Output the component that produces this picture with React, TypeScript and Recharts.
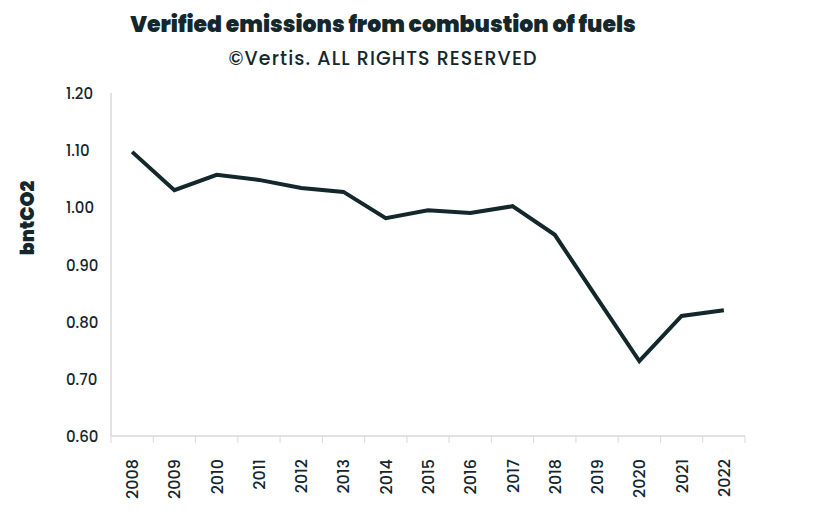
import React from 'react';
import { LineChart, Line, XAxis, YAxis } from 'recharts';

const years = ['2008','2009','2010','2011','2012','2013','2014','2015','2016','2017','2018','2019','2020','2021','2022'];
const emissions = [1.097, 1.03, 1.057, 1.048, 1.034, 1.027, 0.981, 0.995, 0.99, 1.002, 0.952, 0.841, 0.731, 0.81, 0.82];
const yTicks = [0.6, 0.7, 0.8, 0.9, 1.0, 1.1, 1.2];

const data = years.map((y, i) => ({ year: y, value: emissions[i] }));

const W = 840, H = 531;
const M = { top: 93, right: 95, left: 0, bottom: 0 };
const YW = 111, XH = 95;
const BAND = (W - M.right - YW) / years.length;
const FONT = 'Poppins, Inter, "Open Sans", sans-serif';
const DARK = '#13272c';
const GRID = '#d9d9d9';

const XTick = (props: any) => {
  const { x, y, payload, index } = props;
  const last = index === years.length - 1;
  return (
    <g>
      <line x1={x - BAND / 2} x2={x - BAND / 2} y1={y} y2={y + 7} stroke={GRID} strokeWidth={1} />
      {last && <line x1={x + BAND / 2} x2={x + BAND / 2} y1={y} y2={y + 7} stroke={GRID} strokeWidth={1} />}
      <text
        x={x + 6}
        y={y + 23}
        transform={`rotate(-90, ${x + 6}, ${y + 23})`}
        textAnchor="end"
        fontSize={16}
        fontFamily={FONT}
        fontWeight={500}
        fill={DARK}
      >
        {payload.value}
      </text>
    </g>
  );
};

const YTick = (props: any) => {
  const { y, payload } = props;
  return (
    <text x={66} y={y + 6} textAnchor="start" fontSize={15} fontFamily={FONT} fontWeight={500} fill={DARK}>
      {Number(payload.value).toFixed(2)}
    </text>
  );
};

export default function App() {
  return (
    <div style={{ position: 'absolute', left: 0, top: 0, width: W, height: H, background: '#fff' }}>
      <LineChart width={W} height={H} data={data} margin={M}>
        <text x={383} y={32} textAnchor="middle" fontSize={22} fontWeight={900} fontFamily={FONT} fill={DARK}>
          Verified emissions from combustion of fuels
        </text>
        <text x={383} y={65} textAnchor="middle" fontSize={19} fontWeight={500} fontFamily={FONT} fill={DARK} letterSpacing={1.1}>
          ©Vertis. ALL RIGHTS RESERVED
        </text>
        <text
          x={34}
          y={218}
          transform="rotate(-90, 34, 218)"
          textAnchor="middle"
          fontSize={19}
          fontWeight={900}
          fontFamily={FONT}
          fill={DARK}
        >
          bntCO2
        </text>
        <XAxis
          dataKey="year"
          height={XH}
          interval={0}
          padding={{ left: BAND / 2, right: BAND / 2 }}
          tickLine={false}
          tickSize={0}
          tickMargin={0}
          axisLine={{ stroke: GRID, strokeWidth: 1.5 }}
          tick={<XTick />}
        />
        <YAxis
          width={YW}
          domain={[0.6, 1.2]}
          ticks={yTicks}
          interval={0}
          tickLine={false}
          axisLine={{ stroke: GRID, strokeWidth: 1.5 }}
          tick={<YTick />}
        />
        <Line
          type="linear"
          dataKey="value"
          stroke={DARK}
          strokeWidth={4}
          dot={false}
          isAnimationActive={false}
        />
      </LineChart>
    </div>
  );
}
